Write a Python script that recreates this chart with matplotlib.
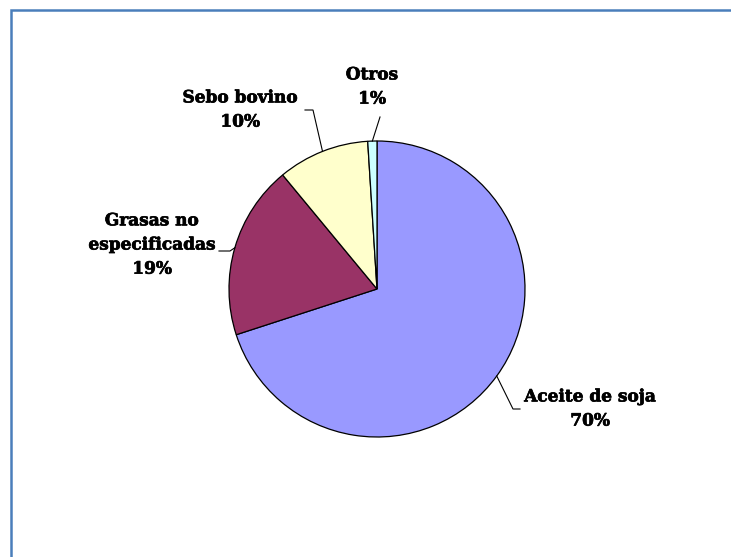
import numpy as np
import matplotlib
matplotlib.use("Agg")
import matplotlib.pyplot as plt
import matplotlib.patheffects as pe
from matplotlib.patches import Rectangle

# Data
categories = ["Aceite de soja", "Grasas no\nespecificadas", "Sebo bovino", "Otros"]
shares = [70, 19, 10, 1]
colors = ["#9999FF", "#993366", "#FFFFCC", "#CCFFFF"]

W, H = 731, 557
fig = plt.figure(figsize=(W / 100, H / 100), dpi=100)
ax = fig.add_axes([0, 0, 1, 1])
ax.axis("off")


def px(x, y):
    """Convert top-left pixel coordinates to axes data coordinates."""
    return x, H - y


# Frame around the chart area (runs off the right and bottom edges)
ax.add_patch(Rectangle(px(11, H + 20), W + 40, H + 20 - 10, fill=False,
                       edgecolor="#4A7EBB", linewidth=1.8))

cx, cy = px(377, 289)
r = 148
wedges, _ = ax.pie(shares, colors=colors, startangle=90, counterclock=False,
                   center=(cx, cy), radius=r,
                   wedgeprops=dict(edgecolor="black", linewidth=0.9))
ax.set_xlim(0, W)
ax.set_ylim(0, H)
ax.set_aspect("equal")

# Label block centres and leader knee / end points (pixel layout)
label_pos = [(590, 409), (152, 245), (240, 110), (372, 87)]
knees = [(513, 409), (230, 251), (313, 110), (380, 117)]
ends = [(520, 409), (219, 251), (305, 110), (380, 117)]

font = dict(family="DejaVu Serif", fontweight="bold", fontsize=12.2)
heavy = [pe.withStroke(linewidth=0.5, foreground="black")]

for w, name, val, lp, kn, en in zip(wedges, categories, shares, label_pos, knees, ends):
    mid = np.deg2rad((w.theta1 + w.theta2) / 2)
    ex, ey = cx + r * np.cos(mid), cy + r * np.sin(mid)
    kx, ky = px(*kn)
    qx, qy = px(*en)
    ax.plot([ex, kx, qx], [ey, ky, qy], color="black", linewidth=0.8,
            solid_joinstyle="miter")
    tx, ty = px(*lp)
    ax.text(tx, ty, f"{name}\n{val}%", ha="center", va="center",
            multialignment="center", linespacing=1.55, path_effects=heavy,
            **font)

fig.savefig("out.png", dpi=100)
